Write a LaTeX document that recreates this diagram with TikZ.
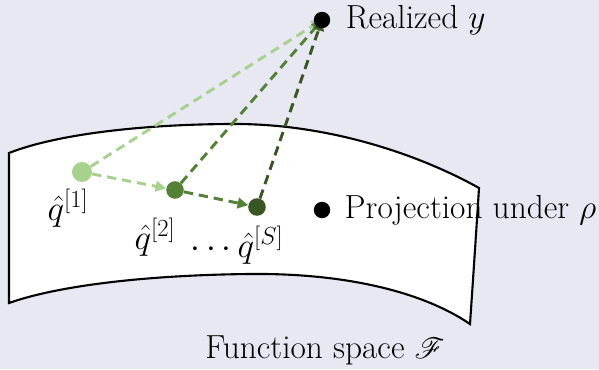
\RequirePackage{fix-cm}
\documentclass[tikz,border=0pt]{standalone}
\usepackage{mathrsfs}
\usetikzlibrary{arrows.meta,positioning}
\definecolor{bgcol}{HTML}{E8E8F2}
\definecolor{lightg}{HTML}{A9D18E}
\definecolor{midg}{HTML}{548235}
\definecolor{darkg}{HTML}{385723}
\pgfdeclarelayer{back}
\pgfdeclarelayer{lines}
\pgfsetlayers{back,lines,main}
\tikzset{
  ball/.style={circle,fill=#1,inner sep=0pt,minimum size=15pt},
  link/.style={draw=#1,line width=2.5pt,dash pattern=on 8pt off 5pt,
    -{Triangle[length=9pt,width=9pt,fill=#1]}},
  lbl/.style={font=\rmfamily\fontsize{28.5}{32}\selectfont,inner sep=1pt},
  mlbl/.style={font=\fontsize{30}{34}\selectfont,inner sep=1pt}
}
\begin{document}
\begin{tikzpicture}[x=0.03cm,y=-0.03cm]
\begin{pgfonlayer}{back}
\fill[bgcol] (0,0) rectangle (599,369);
% the function space
\draw[fill=white,line width=1.8pt] (9,153)
  .. controls (60,133) and (150,124) .. (235,124)
  .. controls (330,124) and (420,155) .. (479,188)
  .. controls (476,235) and (473,280) .. (470,324)
  .. controls (420,290) and (340,273) .. (250,274)
  .. controls (150,275) and (60,285) .. (9,303) -- cycle;
\end{pgfonlayer}

\node[ball=black,minimum size=14pt] (y) at (322,20) {};
\node[lbl,right=12pt of y] (ylab) {Realized $y$};
\node[ball=black,minimum size=14pt] (p) at (322,210) {};
\node[lbl,right=11pt of p] (plab) {Projection under $\rho$};

\node[ball=lightg,minimum size=17pt] (q1) at (82,172) {};
\node[ball=midg] (q2) at (175,190) {};
\node[ball=darkg] (qs) at (257,207) {};

\node[mlbl] (l1) at (68,208) {$\hat q^{[1]}$};
\node[mlbl] (l2) at (155,237) {$\hat q^{[2]}$};
\node[mlbl] (ls) at (237,245) {$\cdots\hat q^{[S]}$};
\node[lbl] (fs) at (325,350) {Function space $\mathscr{F}$};

\begin{pgfonlayer}{lines}
\draw[link=lightg] (q1) -- (y.center);
\draw[link=midg] (q2) -- (y.center);
\draw[link=darkg] (qs) -- (y.center);
\draw[link=lightg] (q1) -- (q2);
\draw[link=midg] (q2) -- (qs);
\end{pgfonlayer}
\end{tikzpicture}
\end{document}
